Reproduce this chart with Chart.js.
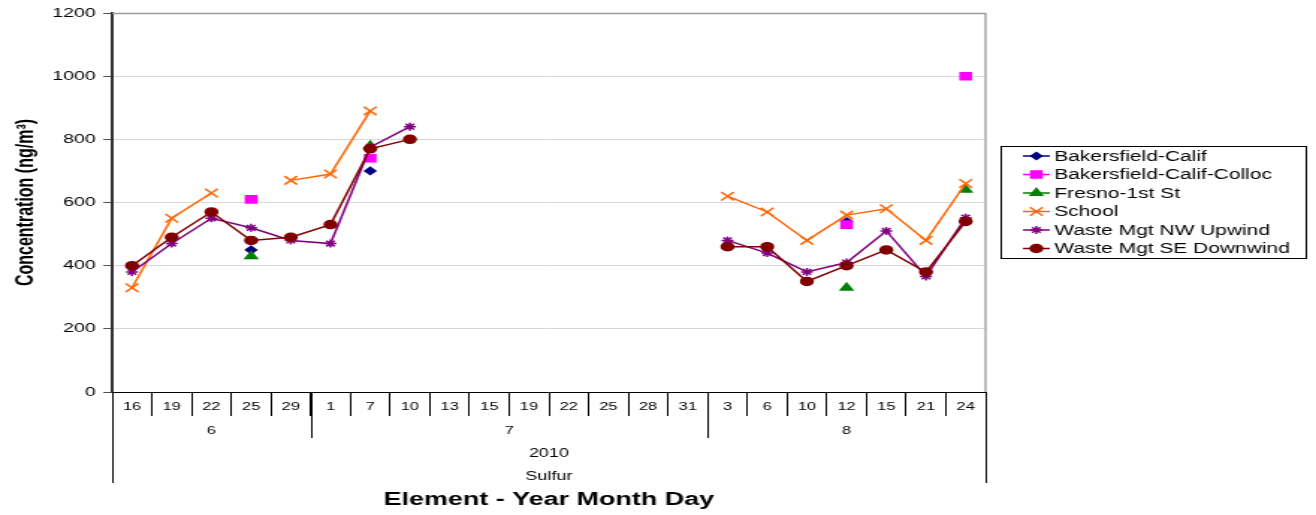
<!DOCTYPE html>
<html>
<head>
<meta charset="utf-8">
<title>Sulfur</title>
<script src="https://cdn.jsdelivr.net/npm/chart.js"></script>
<style>
  html, body { margin: 0; padding: 0; background: #fff; overflow: hidden; }
  /* the reference is a horizontally stretched picture, so the chart is drawn narrow and stretched */
  #wrap { width: 880px; height: 515px; transform: scaleX(1.4955); transform-origin: 0 0; }
</style>
</head>
<body>
<div id="wrap"><canvas id="chart" width="880" height="515"></canvas></div>
<script>
const days = ['16', '19', '22', '25', '29', '1', '7', '10', '13', '15', '19', '22', '25', '28', '31', '3', '6', '10', '12', '15', '21', '24'];
const months = ['6', '6', '6', '6', '6', '7', '7', '7', '7', '7', '7', '7', '7', '7', '7', '8', '8', '8', '8', '8', '8', '8'];
const yearLabel = '2010';
const elementLabel = 'Sulfur';

const seriesNames = ['Bakersfield-Calif', 'Bakersfield-Calif-Colloc', 'Fresno-1st St', 'School', 'Waste Mgt NW Upwind', 'Waste Mgt SE Downwind'];

const bakersfield = [null, null, null, 450, null, null, 700, null, null, null, null, null, null, null, null, null, null, null, 540, null, null, null];
const bakersfieldColloc = [null, null, null, 610, null, null, 740, null, null, null, null, null, null, null, null, null, null, null, 530, null, null, 1000];
const fresno = [null, null, null, 430, null, null, 780, null, null, null, null, null, null, null, null, null, null, null, 330, null, null, 640];
const school = [330, 550, 630, null, 670, 690, 890, null, null, null, null, null, null, null, null, 620, 570, 480, 560, 580, 480, 660];
const nwUpwind = [380, 470, 550, 520, 480, 470, 775, 840, null, null, null, null, null, null, null, 480, 440, 380, 410, 510, 366, 552];
const seDownwind = [400, 490, 570, 480, 490, 530, 770, 800, null, null, null, null, null, null, null, 460, 460, 350, 400, 450, 380, 540];

const yMin = 0, yMax = 1200, yStep = 200;

const FONT = '"Liberation Sans", Arial, sans-serif';
Chart.defaults.font.family = FONT;
Chart.defaults.color = '#000';

function series(label, data, color, style, radius, order) {
  return {
    label: label,
    data: data,
    borderColor: color,
    backgroundColor: color,
    pointBackgroundColor: color,
    pointBorderColor: color,
    pointStyle: style,
    pointRadius: radius,
    pointBorderWidth: 1.5,
    borderWidth: 1.5,
    spanGaps: false,
    tension: 0,
    order: order
  };
}

// excel draws later series on top; chart.js draws the lowest order last
const datasets = [
  series(seriesNames[0], bakersfield, '#000080', 'rectRot', 3.5, 5),
  series(seriesNames[1], bakersfieldColloc, '#ff00ff', 'rect', 5, 4),
  series(seriesNames[2], fresno, '#008000', 'triangle', 4.5, 3),
  series(seriesNames[3], school, '#ff6600', 'crossRot', 6, 2),
  series(seriesNames[4], nwUpwind, '#800080', 'star', 4, 1),
  series(seriesNames[5], seDownwind, '#800000', 'circle', 4, 0)
];

// grey frame on top and right of the plot area
const plotFrame = {
  id: 'plotFrame',
  beforeDatasetsDraw(chart) {
    const {ctx, chartArea: a} = chart;
    ctx.save();
    ctx.strokeStyle = '#9a9a9a';
    ctx.lineWidth = 1.3;
    ctx.beginPath();
    ctx.moveTo(a.left, a.top + 0.5);
    ctx.lineTo(a.right, a.top + 0.5);
    ctx.lineTo(a.right, a.bottom);
    ctx.stroke();
    ctx.restore();
  }
};

// month / year / element rows under the day labels
const groupAxis = {
  id: 'groupAxis',
  afterDraw(chart) {
    const ctx = chart.ctx;
    const xs = chart.scales.x;
    const a = chart.chartArea;
    const half = (xs.getPixelForValue(1) - xs.getPixelForValue(0)) / 2;
    ctx.save();
    ctx.strokeStyle = '#000';
    ctx.fillStyle = '#000';
    ctx.lineWidth = 1;
    ctx.textAlign = 'center';
    ctx.textBaseline = 'middle';
    ctx.font = '11px ' + FONT;
    let start = 0;
    for (let i = 1; i <= months.length; i++) {
      if (i < months.length && months[i] === months[start]) continue;
      const l = xs.getPixelForValue(start) - half;
      const r = xs.getPixelForValue(i - 1) + half;
      ctx.fillText(months[start], (l + r) / 2, 431);
      if (i < months.length) {
        ctx.beginPath();
        ctx.moveTo(Math.round(r) + 0.5, a.bottom);
        ctx.lineTo(Math.round(r) + 0.5, 438);
        ctx.stroke();
      }
      start = i;
    }
    [a.left, a.right].forEach(x => {
      ctx.beginPath();
      ctx.moveTo(Math.round(x) + 0.5, a.bottom);
      ctx.lineTo(Math.round(x) + 0.5, 483);
      ctx.stroke();
    });
    const cx = (a.left + a.right) / 2;
    ctx.font = '12px ' + FONT;
    ctx.fillText(yearLabel, cx, 454);
    ctx.fillText(elementLabel, cx, 477);
    ctx.restore();
  }
};

// boxed legend on the right, line + marker like excel
const legendBox = {
  id: 'legendBox',
  afterDraw(chart) {
    const ctx = chart.ctx;
    const left = 669, top = 146, width = 204, height = 112;
    ctx.save();
    ctx.strokeStyle = '#000';
    ctx.lineWidth = 1;
    ctx.strokeRect(left + 0.5, top + 0.5, width, height);
    ctx.textAlign = 'left';
    ctx.textBaseline = 'middle';
    ctx.font = '14px ' + FONT;
    chart.data.datasets.forEach((ds, i) => {
      const y = top + 10 + i * 18.5;
      ctx.strokeStyle = ds.borderColor;
      ctx.lineWidth = ds.borderWidth;
      ctx.beginPath();
      ctx.moveTo(left + 15, y);
      ctx.lineTo(left + 33, y);
      ctx.stroke();
      ctx.fillStyle = ds.pointBackgroundColor;
      ctx.strokeStyle = ds.pointBorderColor;
      ctx.lineWidth = ds.pointBorderWidth;
      if (Chart.helpers && Chart.helpers.drawPoint) {
        Chart.helpers.drawPoint(ctx, {
          pointStyle: ds.pointStyle,
          radius: ds.pointRadius,
          borderWidth: ds.pointBorderWidth,
          rotation: 0
        }, left + 24, y);
      }
      ctx.fillStyle = '#000';
      ctx.fillText(ds.label, left + 36, y + 1);
    });
    ctx.restore();
  }
};

new Chart(document.getElementById('chart'), {
  type: 'line',
  data: {
    labels: days,
    datasets: datasets
  },
  options: {
    responsive: false,
    animation: false,
    layout: { padding: { top: 13, right: 221, bottom: 0, left: 0 } },
    plugins: {
      legend: { display: false },
      tooltip: { enabled: false }
    },
    scales: {
      x: {
        type: 'category',
        offset: true,
        grid: {
          offset: true,
          drawOnChartArea: false,
          drawTicks: true,
          tickLength: 24,
          color: '#000',
          tickColor: '#000',
          lineWidth: 1
        },
        border: { color: '#000', width: 1 },
        ticks: {
          autoSkip: false,
          maxRotation: 0,
          minRotation: 0,
          padding: -16,
          color: '#000',
          font: { size: 11 }
        },
        title: {
          display: true,
          text: 'Element - Year Month Day',
          color: '#000',
          font: { size: 18, weight: 'bold' },
          padding: { top: 0, bottom: 4 }
        },
        afterFit: s => { s.height = 123; }
      },
      y: {
        min: yMin,
        max: yMax,
        ticks: {
          stepSize: yStep,
          padding: 5,
          color: '#000',
          font: { size: 13 },
          callback: v => String(v)
        },
        grid: {
          color: '#d9d9d9',
          tickColor: '#555',
          tickLength: 6,
          lineWidth: 1
        },
        border: { color: '#333', width: 2 },
        title: {
          display: true,
          text: 'Concentration (ng/m\u00b3)',
          color: '#000',
          font: { size: 16, weight: 'bold' },
          padding: { top: 8, bottom: 0 }
        },
        afterFit: s => { s.width = 75; }
      }
    }
  },
  plugins: [plotFrame, groupAxis, legendBox]
});
</script>
</body>
</html>
